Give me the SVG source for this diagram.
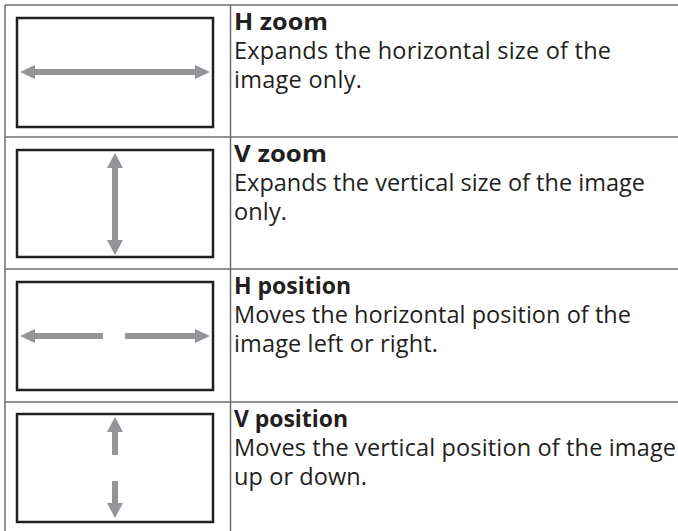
<svg xmlns="http://www.w3.org/2000/svg" width="678" height="531" viewBox="0 0 678 531">
<style>
.grid{stroke:#6d6e71;stroke-width:1.5;fill:none}
.frame{fill:#fff;stroke:#231f20;stroke-width:2.5}
.arr{fill:#939598}
text{font-family:"Open Sans","Noto Sans","Liberation Sans",sans-serif;font-size:23.5px;fill:#231f20}
.t{font-weight:bold;font-size:23px}
</style>
<rect width="678" height="531" fill="#fff"/>
<g id="table">
<line class="grid" x1="5" y1="5" x2="678" y2="5"/>
<line class="grid" x1="5" y1="137" x2="678" y2="137"/>
<line class="grid" x1="5" y1="269" x2="678" y2="269"/>
<line class="grid" x1="5" y1="402" x2="678" y2="402"/>
<line class="grid" x1="5" y1="5" x2="5" y2="531"/>
<line class="grid" x1="230.5" y1="5" x2="230.5" y2="531"/>
</g>
<g id="row-hzoom">
<rect class="frame" x="17" y="18" width="196" height="109"/>
<path class="arr" d="M20,72 L35,65 L35,69 L195,69 L195,65 L210,72 L195,79 L195,75 L35,75 L35,79 Z"/>
<text x="234" y="30" class="t" textLength="94" lengthAdjust="spacingAndGlyphs">H zoom</text>
<text x="234" y="59" textLength="377">Expands the horizontal size of the</text>
<text x="234" y="88" textLength="128">image only.</text>
</g>
<g id="row-vzoom">
<rect class="frame" x="17" y="150" width="196" height="107"/>
<path class="arr" d="M115,153 L123,168 L118,168 L118,240 L123,240 L115,255 L107,240 L112,240 L112,168 L107,168 Z"/>
<text x="234" y="162" class="t" textLength="93" lengthAdjust="spacingAndGlyphs">V zoom</text>
<text x="234" y="191" textLength="411">Expands the vertical size of the image</text>
<text x="234" y="220" textLength="53">only.</text>
</g>
<g id="row-hposition">
<rect class="frame" x="17" y="282" width="196" height="108"/>
<path class="arr" d="M20,336 L35,329 L35,333 L103,333 L103,339 L35,339 L35,343 Z"/>
<path class="arr" d="M210,336 L195,329 L195,333 L125,333 L125,339 L195,339 L195,343 Z"/>
<text x="234" y="294" class="t" textLength="117">H position</text>
<text x="234" y="323" textLength="397">Moves the horizontal position of the</text>
<text x="234" y="352" textLength="204">image left or right.</text>
</g>
<g id="row-vposition">
<rect class="frame" x="17" y="414" width="196" height="108"/>
<path class="arr" d="M115,417 L123,432 L118,432 L118,455 L112,455 L112,432 L107,432 Z"/>
<path class="arr" d="M115,518 L123,503 L118,503 L118,481 L112,481 L112,503 L107,503 Z"/>
<text x="234" y="427" class="t" textLength="114">V position</text>
<text x="234" y="456" textLength="442">Moves the vertical position of the image</text>
<text x="234" y="485" textLength="133">up or down.</text>
</g>
</svg>
